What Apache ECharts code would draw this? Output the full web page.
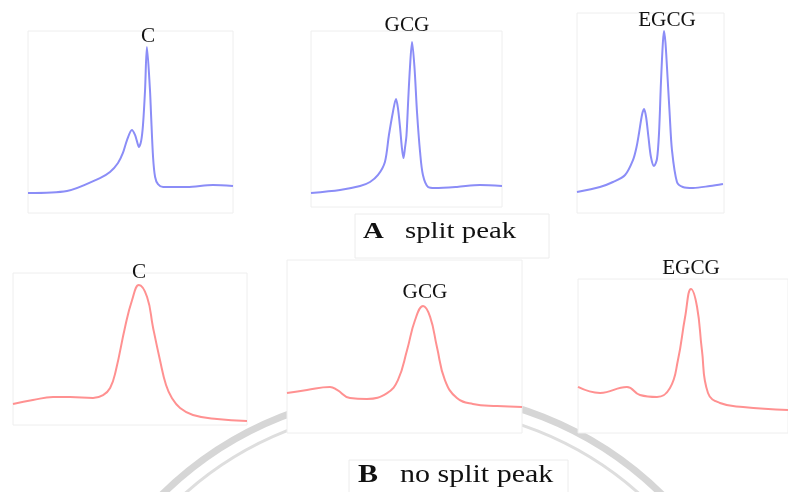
<!DOCTYPE html>
<html>
<head>
<meta charset="utf-8">
<script src="https://cdn.jsdelivr.net/npm/echarts@6/dist/echarts.min.js"></script>
<style>
  html, body { margin: 0; padding: 0; background: #fff; }
  #chart { width: 788px; height: 492px; }
</style>
</head>
<body>
<div id="chart"></div>
<script>
// Chromatogram traces: run time (% of window) and detector response (% of panel height)
// Row A: split peak
const aCTime      = [0, 19.0, 35.1, 40.0, 43.9, 46.3, 48.3, 50.7, 52.2, 53.1, 54.1, 55.2, 56.1, 57.1, 58.0, 59.5, 60.0, 61.0, 62.0, 63.4, 65.9, 69.3, 77.6, 90.2, 100];
const aCSignal    = [11.0, 12.1, 19.2, 22.5, 27.5, 33.0, 40.1, 45.6, 42.9, 39.6, 36.3, 39.6, 48.4, 67.6, 91.2, 67.6, 54.9, 30.8, 19.8, 15.9, 14.3, 14.3, 14.3, 15.4, 14.8];

const aGCGTime    = [0, 15.2, 25.7, 30.9, 35.1, 38.7, 40.8, 42.9, 44.5, 45.5, 46.6, 47.6, 48.4, 49.2, 50.0, 50.9, 51.8, 52.9, 54.2, 55.5, 57.1, 58.6, 61.3, 64.9, 76.4, 88.5, 100];
const aGCGSignal  = [8.0, 9.7, 11.9, 14.2, 18.2, 25.6, 40.9, 54.0, 61.4, 56.3, 45.5, 33.5, 27.8, 33.5, 40.9, 60.8, 79.0, 93.8, 79.0, 54.0, 31.3, 18.2, 11.4, 10.8, 11.4, 12.5, 11.9];

const aEGCGTime   = [0, 15.6, 24.5, 32.7, 38.1, 40.5, 42.2, 44.2, 45.6, 47.0, 48.6, 50.3, 52.4, 54.4, 55.8, 57.1, 58.4, 59.2, 60.2, 61.2, 63.0, 64.6, 68.0, 72.0, 78.9, 90.5, 99.3];
const aEGCGSignal = [10.5, 13.0, 15.5, 19.0, 26.5, 33.0, 40.0, 49.0, 52.0, 48.0, 38.0, 28.0, 23.5, 27.0, 40.0, 65.0, 85.0, 91.0, 85.0, 73.0, 50.0, 31.5, 15.5, 13.0, 12.5, 13.5, 14.5];

// Row B: no split peak
const bCTime      = [0, 8.5, 17.1, 24.4, 34.2, 38.5, 41.5, 44.0, 47.9, 50.9, 53.8, 57.3, 59.8, 62.8, 65.4, 67.9, 71.4, 76.9, 87.2, 100];
const bCSignal    = [13.8, 16.4, 18.4, 18.4, 17.8, 19.7, 24.3, 36.2, 64.5, 82.2, 92.1, 84.2, 64.5, 42.8, 26.3, 17.8, 11.2, 6.6, 3.9, 2.6];

const bGCGTime    = [0, 8.5, 18.3, 21.3, 26.8, 34.0, 42.6, 47.2, 51.1, 54.5, 57.9, 60.9, 63.8, 67.2, 72.3, 79.1, 89.4, 100];
const bGCGSignal  = [23.1, 24.9, 26.6, 24.9, 20.2, 19.7, 23.1, 30.6, 48.0, 65.3, 73.4, 67.1, 49.7, 30.6, 20.2, 16.8, 15.6, 15.0];

const bEGCGTime   = [0, 10.5, 23.3, 29.5, 37.6, 43.8, 47.6, 51.0, 53.8, 56.7, 59.0, 61.9, 67.6, 78.6, 100];
const bEGCGSignal = [29.9, 26.0, 29.9, 24.7, 23.4, 29.2, 47.4, 75.3, 93.5, 81.8, 53.9, 26.0, 19.5, 16.9, 14.9];

const panelNames  = ['C', 'GCG', 'EGCG', 'C', 'GCG', 'EGCG'];
const rowLabels   = [['A', 'split peak'], ['B', 'no split peak']];

const traces = [
  [aCTime, aCSignal], [aGCGTime, aGCGSignal], [aEGCGTime, aEGCGSignal],
  [bCTime, bCSignal], [bGCGTime, bGCGSignal], [bEGCGTime, bEGCGSignal]
];

// Panel frames and label anchors
const frames = [
  { left: 28,  top: 31,  width: 205, height: 182, color: '#8b8df7', smooth: 0.3, tx: 148, ty: 37 },
  { left: 311, top: 31,  width: 191, height: 176, color: '#8b8df7', smooth: 0.3, tx: 407, ty: 26 },
  { left: 577, top: 13,  width: 147, height: 200, color: '#8b8df7', smooth: 0.3, tx: 667, ty: 21 },
  { left: 13,  top: 273, width: 234, height: 152, color: '#ff9191', smooth: 0.45, tx: 139, ty: 273 },
  { left: 287, top: 260, width: 235, height: 173, color: '#ff9191', smooth: 0.45, tx: 425, ty: 293 },
  { left: 578, top: 279, width: 210, height: 154, color: '#ff9191', smooth: 0.45, tx: 691, ty: 269 }
];

const serif = '"Liberation Serif", "Times New Roman", serif';

const grids = frames.map(f => ({
  left: f.left, top: f.top, width: f.width, height: f.height,
  show: true, backgroundColor: '#ffffff', borderColor: '#eeeeee', borderWidth: 1, z: 1
}));
const xAxes = frames.map((f, i) => ({ type: 'value', gridIndex: i, min: 0, max: 100, show: false }));
const yAxes = frames.map((f, i) => ({ type: 'value', gridIndex: i, min: 0, max: 100, show: false }));
const series = traces.map((t, i) => ({
  type: 'line', xAxisIndex: i, yAxisIndex: i, z: 3,
  data: t[0].map((x, k) => [x, t[1][k]]),
  showSymbol: false, smooth: frames[i].smooth, silent: true,
  lineStyle: { color: frames[i].color, width: 2 }
}));

const graphics = [];
// faint circular seal behind the panels
graphics.push({ type: 'circle', z: 0, shape: { cx: 412, cy: 748, r: 356 },
  style: { fill: 'none', stroke: '#d6d6d6', lineWidth: 7 } });
graphics.push({ type: 'circle', z: 0, shape: { cx: 412, cy: 748, r: 341 },
  style: { fill: 'none', stroke: '#dedede', lineWidth: 3 } });

// compound names above each trace
frames.forEach((f, i) => {
  graphics.push({ type: 'text', z: 10, x: f.tx, y: f.ty, scaleX: 1.06,
    style: { text: panelNames[i], x: 0, y: 0, font: '20px ' + serif, fill: '#111',
      textAlign: 'center', textVerticalAlign: 'middle' } });
});

// row captions
const captionBoxes = [
  { x: 355, y: 214, w: 194, h: 44, lx: 363, tx: 405, base: 244, size: 24 },
  { x: 349, y: 460, w: 219, h: 40, lx: 358, tx: 400, base: 488, size: 25 }
];
captionBoxes.forEach((b, i) => {
  graphics.push({ type: 'rect', z: 5, shape: { x: b.x, y: b.y, width: b.w, height: b.h },
    style: { fill: '#ffffff', stroke: '#ececec', lineWidth: 1 } });
  graphics.push({ type: 'text', z: 10, x: b.lx, y: b.base, scaleX: 1.2,
    style: { text: rowLabels[i][0], x: 0, y: 0, font: 'bold ' + b.size + 'px ' + serif, fill: '#111',
      textAlign: 'left', textVerticalAlign: 'bottom' } });
  graphics.push({ type: 'text', z: 10, x: b.tx, y: b.base, scaleX: 1.2,
    style: { text: rowLabels[i][1], x: 0, y: 0, font: b.size + 'px ' + serif, fill: '#111',
      textAlign: 'left', textVerticalAlign: 'bottom' } });
});

const chart = echarts.init(document.getElementById('chart'), null, { renderer: 'canvas' });
chart.setOption({
  animation: false,
  backgroundColor: '#ffffff',
  grid: grids,
  xAxis: xAxes,
  yAxis: yAxes,
  series: series,
  graphic: { elements: graphics }
});
</script>
</body>
</html>
